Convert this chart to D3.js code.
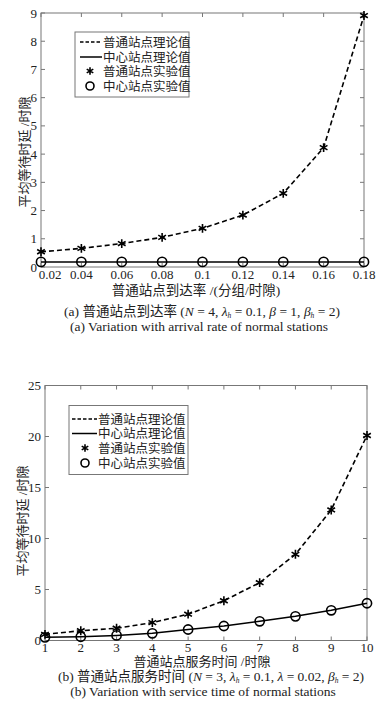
<!DOCTYPE html>
<html><head><meta charset="utf-8">
<script src="https://cdn.jsdelivr.net/npm/d3@7"></script>
<style>
html,body{margin:0;padding:0;background:#fff;}
svg{display:block;}
text{font-family:"Liberation Serif","Noto Sans CJK SC",serif;fill:#222;}
</style></head>
<body>
<svg id="c" width="382" height="711"></svg>
<script>
// ---------- Data ----------
const rateX = [0.02, 0.04, 0.06, 0.08, 0.10, 0.12, 0.14, 0.16, 0.18];
const rateNormal = [0.54, 0.66, 0.83, 1.05, 1.37, 1.84, 2.61, 4.23, 8.91];
const rateCenter = [0.18, 0.18, 0.18, 0.18, 0.18, 0.18, 0.18, 0.18, 0.18];
const rateXTicks = [0.02, 0.04, 0.06, 0.08, 0.1, 0.12, 0.14, 0.16, 0.18];
const rateXTickLabels = ["0.02","0.04","0.06","0.08","0.1","0.12","0.14","0.16","0.18"];
const rateYTicks = [0, 1, 2, 3, 4, 5, 6, 7, 8, 9];

const svcX = [1, 2, 3, 4, 5, 6, 7, 8, 9, 10];
const svcNormal = [0.60, 0.96, 1.20, 1.75, 2.58, 3.90, 5.67, 8.45, 12.8, 20.1];
const svcCenter = [0.31, 0.37, 0.50, 0.70, 1.08, 1.42, 1.88, 2.37, 2.96, 3.65];
const svcXTicks = [1, 2, 3, 4, 5, 6, 7, 8, 9, 10];
const svcYTicks = [0, 5, 10, 15, 20, 25];

const legendLabels = ["普通站点理论值", "中心站点理论值", "普通站点实验值", "中心站点实验值"];
const yTitle = "平均等待时延 /时隙";
const xTitleA = "普通站点到达率 /(分组/时隙)";
const xTitleB = "普通站点服务时间 /时隙";

// ---------- Drawing ----------
const svg = d3.select("#c");
const axisColor = "#777";

function caption(g, x, y, parts, size) {
  const t = g.append("text").attr("x", x).attr("y", y).attr("text-anchor", "middle").style("font-size", size + "px");
  parts.forEach(p => {
    const ts = t.append("tspan").text(p.t);
    if (p.i) ts.style("font-style", "italic");
    if (p.sub) { ts.attr("dy", 1.5).style("font-size", "7.5px"); }
    if (p.after) ts.attr("dy", -1.5);
  });
}

function drawChart(o) {
  const g = svg.append("g");
  const x = d3.scaleLinear().domain(o.xDomain).range([o.left, o.right]);
  const y = d3.scaleLinear().domain(o.yDomain).range([o.bottom, o.top]);

  g.append("rect").attr("x", o.left).attr("y", o.top)
    .attr("width", o.right - o.left).attr("height", o.bottom - o.top)
    .attr("fill", "none").attr("stroke", axisColor).attr("stroke-width", 1);

  const tl = 4;
  o.xTicks.forEach((v, i) => {
    const px = x(v);
    g.append("line").attr("x1", px).attr("x2", px).attr("y1", o.bottom).attr("y2", o.bottom - tl).attr("stroke", axisColor);
    g.append("line").attr("x1", px).attr("x2", px).attr("y1", o.top).attr("y2", o.top + tl).attr("stroke", axisColor);
    g.append("text").attr("x", px + (i === 0 ? o.firstXShift : 0)).attr("y", o.bottom + o.xLabDy)
      .attr("text-anchor", "middle").style("font-size", "13px").text(o.xTickLabels[i]);
  });
  o.yTicks.forEach(v => {
    const py = y(v);
    g.append("line").attr("x1", o.left).attr("x2", o.left + tl).attr("y1", py).attr("y2", py).attr("stroke", axisColor);
    g.append("line").attr("x1", o.right).attr("x2", o.right - tl).attr("y1", py).attr("y2", py).attr("stroke", axisColor);
    g.append("text").attr("x", o.left - 4).attr("y", py + 4.5)
      .attr("text-anchor", "end").style("font-size", "13px").text(v);
  });

  g.append("text").attr("x", o.xTitleX).attr("y", o.bottom + o.xTitleDy).attr("text-anchor", "middle")
    .style("font-size", o.xTitleSize + "px").text(o.xTitle);
  g.append("text").attr("transform", `translate(${o.yTitleX},${o.yTitleY}) rotate(-90)`)
    .attr("text-anchor", "middle").style("font-size", "13px").text(yTitle);

  const line = d3.line().x(d => x(d[0])).y(d => y(d[1]));
  const normalPts = o.xs.map((v, i) => [v, o.normal[i]]);
  const centerPts = o.xs.map((v, i) => [v, o.center[i]]);
  g.append("path").attr("d", line(centerPts)).attr("fill", "none").attr("stroke", "#000").attr("stroke-width", 1.5);
  g.append("path").attr("d", line(normalPts)).attr("fill", "none").attr("stroke", "#000")
    .attr("stroke-width", 1.6).attr("stroke-dasharray", "5,3");

  const star = d3.symbol().type(d3.symbolAsterisk).size(55);
  normalPts.forEach(p => {
    g.append("path").attr("d", star()).attr("transform", `translate(${x(p[0])},${y(p[1])})`)
      .attr("fill", "none").attr("stroke", "#000").attr("stroke-width", 1.6);
  });
  centerPts.forEach(p => {
    g.append("circle").attr("cx", x(p[0])).attr("cy", y(p[1])).attr("r", 4.6)
      .attr("fill", "none").attr("stroke", "#000").attr("stroke-width", 1.6);
  });

  const L = o.legend;
  g.append("rect").attr("x", L.x).attr("y", L.y).attr("width", L.w).attr("height", L.h)
    .attr("fill", "#fff").attr("stroke", axisColor).attr("stroke-width", 1);
  legendLabels.forEach((lab, i) => {
    const ly = L.rows[i];
    if (i === 0) g.append("line").attr("x1", L.lx1).attr("x2", L.lx2).attr("y1", ly).attr("y2", ly)
      .attr("stroke", "#000").attr("stroke-width", 1.5).attr("stroke-dasharray", "3.5,2");
    if (i === 1) g.append("line").attr("x1", L.lx1).attr("x2", L.lx2).attr("y1", ly).attr("y2", ly)
      .attr("stroke", "#000").attr("stroke-width", 1.5);
    if (i === 2) g.append("path").attr("d", d3.symbol().type(d3.symbolAsterisk).size(40)())
      .attr("transform", `translate(${L.mx},${ly})`).attr("fill", "none").attr("stroke", "#000").attr("stroke-width", 1.6);
    if (i === 3) g.append("circle").attr("cx", L.mx).attr("cy", ly).attr("r", 4)
      .attr("fill", "none").attr("stroke", "#000").attr("stroke-width", 1.6);
    g.append("text").attr("x", L.tx).attr("y", ly + 4.5).style("font-size", "12.5px").text(lab);
  });
  return g;
}

drawChart({
  xs: rateX, normal: rateNormal, center: rateCenter,
  xDomain: [0.02, 0.18], yDomain: [0, 9],
  left: 41, right: 364, top: 13, bottom: 267,
  xTicks: rateXTicks, xTickLabels: rateXTickLabels, yTicks: rateYTicks, firstXShift: 9, xLabDy: 12,
  xTitle: xTitleA, xTitleX: 196, xTitleDy: 28, xTitleSize: 13.5, yTitleX: 29, yTitleY: 152,
  legend: {x: 75, y: 32, w: 114, h: 65, rows: [42, 57, 71, 86], lx1: 80, lx2: 102, mx: 90, tx: 103}
});

drawChart({
  xs: svcX, normal: svcNormal, center: svcCenter,
  xDomain: [1, 10], yDomain: [0, 25],
  left: 45, right: 367, top: 385.5, bottom: 640.5,
  xTicks: svcXTicks, xTickLabels: svcXTicks.map(String), yTicks: svcYTicks, firstXShift: 0, xLabDy: 11,
  xTitle: xTitleB, xTitleX: 202, xTitleDy: 25, xTitleSize: 13, yTitleX: 27, yTitleY: 521,
  legend: {x: 69, y: 405.5, w: 119, h: 69, rows: [419, 433.5, 448, 463], lx1: 72, lx2: 97, mx: 85, tx: 98}
});

const gc = svg.append("g");
caption(gc, 202, 316, [{t: "(a) 普通站点到达率  ("}, {t: "N", i: 1}, {t: " = 4, "}, {t: "λ", i: 1}, {t: "h", i: 1, sub: 1},
  {t: " = 0.1,  ", after: 1}, {t: "β", i: 1}, {t: " = 1,  "}, {t: "β", i: 1}, {t: "h", i: 1, sub: 1}, {t: " = 2)", after: 1}], 13.5);
caption(gc, 199, 331, [{t: "(a)  Variation with arrival rate of normal stations"}], 13.5);
caption(gc, 211, 681, [{t: "(b) 普通站点服务时间 ("}, {t: "N", i: 1}, {t: " = 3,  "}, {t: "λ", i: 1}, {t: "h", i: 1, sub: 1},
  {t: " = 0.1,  ", after: 1}, {t: "λ", i: 1}, {t: " = 0.02,  "}, {t: "β", i: 1}, {t: "h", i: 1, sub: 1}, {t: " = 2)", after: 1}], 13.5);
caption(gc, 203, 695.5, [{t: "(b)  Variation with service time of normal stations"}], 13.5);
</script>
</body></html>
